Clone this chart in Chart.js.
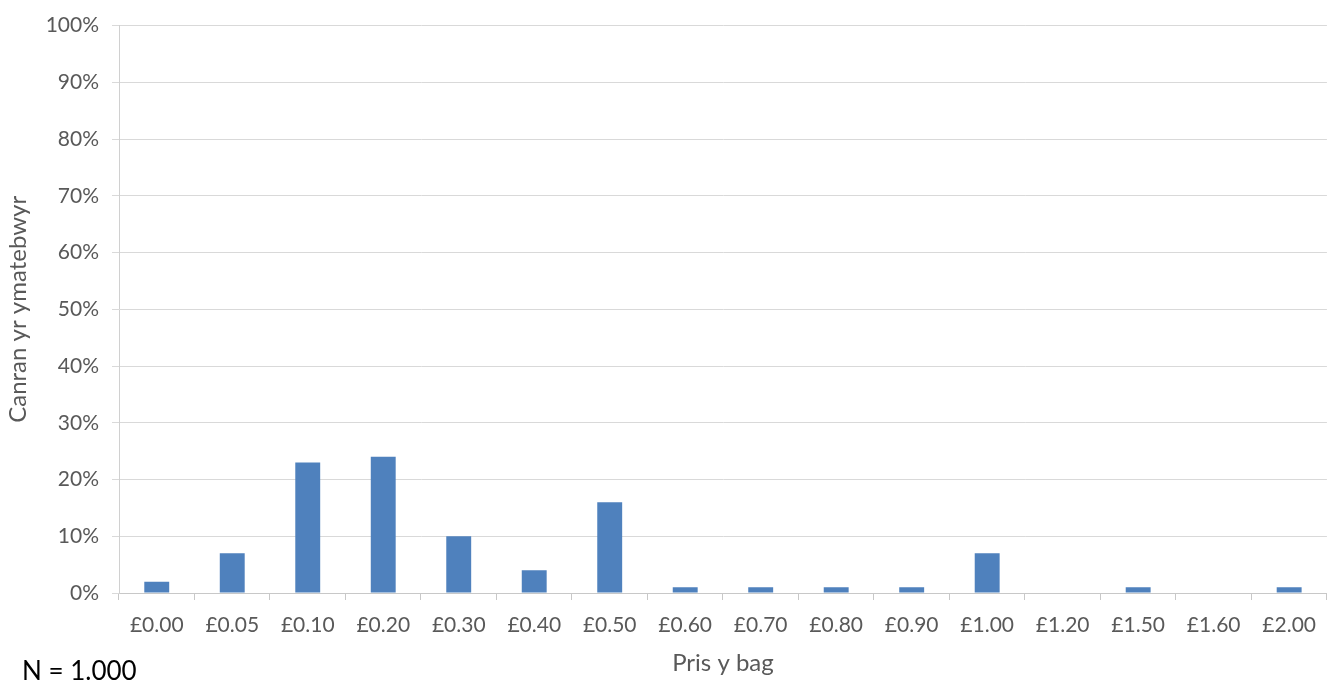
<!DOCTYPE html>
<html><head><meta charset="utf-8">
<script src="https://cdn.jsdelivr.net/npm/chart.js@4.4.0/dist/chart.umd.min.js"></script>
<style>
html,body{margin:0;padding:0;background:#fff;}
#wrap{position:relative;width:1329px;height:682px;}
#note{position:absolute;left:22px;top:657px;font-family:Lato,"Open Sans",sans-serif;font-size:26px;color:#000;line-height:1;}
</style></head>
<body>
<div id="wrap"><canvas id="c" width="1329" height="682"></canvas><div id="note">N = 1.000</div></div>
<script>
const categories = ["£0.00","£0.05","£0.10","£0.20","£0.30","£0.40","£0.50","£0.60","£0.70","£0.80","£0.90","£1.00","£1.20","£1.50","£1.60","£2.00"];
const percentages = [2,7,23,24,10,4,16,1,1,1,1,7,0,1,0,1];
const yTicks = [0,10,20,30,40,50,60,70,80,90,100];
const xTitle = "Pris y bag";
const yTitle = "Canran yr ymatebwyr";

const font = 'Lato, "Open Sans", sans-serif';
new Chart(document.getElementById('c'), {
  type: 'bar',
  data: { labels: categories, datasets: [{ data: percentages, backgroundColor: '#4F81BD', categoryPercentage: 1, barPercentage: 0.33 }] },
  options: {
    responsive: false, animation: false,
    layout: { padding: { top: 24, right: 0, left: 0, bottom: 0 } },
    plugins: { legend: { display: false }, tooltip: { enabled: false } },
    scales: {
      x: {
        offset: true,
        grid: { offset: true, drawOnChartArea: false, color: '#c8c8c8', tickLength: 7, drawTicks: true },
        border: { color: '#c8c8c8' },
        ticks: { color: '#595959', font: { family: font, size: 21 }, padding: 13, maxRotation: 0 },
        title: { display: true, text: xTitle, color: '#595959', font: { family: font, size: 24 }, padding: { top: 5 } },
        afterFit: s => { s.height = 89; }
      },
      y: {
        min: 0, max: 100,
        afterBuildTicks: s => { s.ticks = yTicks.map(v => ({ value: v })); },
        grid: { color: '#d9d9d9', tickLength: 7 },
        border: { color: '#d0d0d0' },
        ticks: { color: '#595959', font: { family: font, size: 21 }, padding: 13, callback: v => v + '%' },
        title: { display: true, text: yTitle, color: '#595959', font: { family: font, size: 24 }, padding: { bottom: 6 } },
        afterFit: s => { s.width = 119; }
      }
    }
  }
});
</script>
</body></html>
